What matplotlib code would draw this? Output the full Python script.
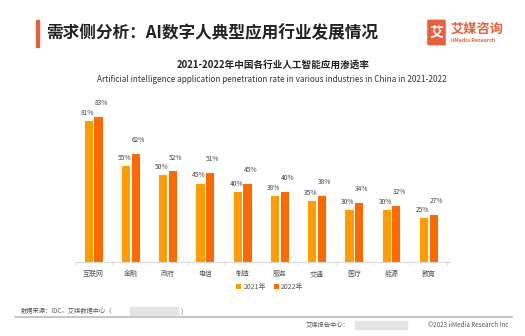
import matplotlib.pyplot as plt
from matplotlib.patches import Rectangle, FancyBboxPatch
import numpy as np

plt.rcParams['font.family'] = ['Noto Sans CJK SC', 'DejaVu Sans']

industries = ['互联网', '金融', '政府', '电信', '制造', '服务', '交通', '医疗', '能源', '教育']
rate_2021 = [81, 55, 50, 45, 40, 38, 35, 30, 30, 25]
rate_2022 = [83, 62, 52, 51, 45, 40, 38, 34, 32, 27]
series_names = ['2021年', '2022年']

c2021 = '#FF9C00'
c2022 = '#FF6A00'
accent = '#E8613C'
grey_txt = '#555555'

W, H = 525, 336
fig = plt.figure(figsize=(W / 100, H / 100), dpi=100)
fig.patch.set_facecolor('white')

def fx(px):
    return px / W

def fy(py):
    return 1 - py / H

# header
fig.patches.append(Rectangle((fx(36), fy(47)), fx(3), 27 / H, transform=fig.transFigure,
                             color=accent, zorder=3))
fig.text(fx(46), fy(33), '需求侧分析：AI数字人典型应用行业发展情况', fontsize=12,
         fontweight='bold', color='#222222', va='center', ha='left')

# logo
fig.patches.append(FancyBboxPatch((fx(429), fy(44)), fx(15), 23 / H,
                                  boxstyle='round,pad=0.002', transform=fig.transFigure,
                                  color=accent, zorder=3))
fig.text(fx(436.5), fy(32.5), '艾', fontsize=10, fontweight='bold', color='white',
         ha='center', va='center', zorder=4)
fig.text(fx(451), fy(29), '艾媒咨询', fontsize=9.5, fontweight='bold', color=accent,
         ha='left', va='center')
fig.text(fx(451), fy(41), 'iiMedia Research', fontsize=3.8, fontweight='bold', color=accent,
         ha='left', va='center')

# chart titles
fig.text(fx(273), fy(65), '2021-2022年中国各行业人工智能应用渗透率', fontsize=6.9,
         fontweight='bold', color='#222222', ha='center', va='center')
fig.text(fx(272), fy(80), 'Artificial intelligence application penetration rate in various industries in China in 2021-2022',
         fontsize=5.9, color='#333333', ha='center', va='center')

# bars
ax = fig.add_axes([fx(75), fy(262), fx(375), 157 / H])
x = np.arange(len(industries))
bw = 0.22
off = 0.13
ax.bar(x - off, rate_2021, bw, color=c2021, label=series_names[0])
ax.bar(x + off, rate_2022, bw, color=c2022, label=series_names[1])
for xi, v in zip(x, rate_2021):
    ax.annotate(f'{v}%', (xi - off, v), xytext=(-1, 3), textcoords='offset points',
                ha='center', va='bottom', fontsize=4.8, color='#444444')
for xi, v in zip(x, rate_2022):
    ax.annotate(f'{v}%', (xi + off, v), xytext=(2, 7), textcoords='offset points',
                ha='center', va='bottom', fontsize=4.8, color='#444444')

ax.set_xlim(-0.46, 9.57)
ax.set_ylim(0, 90)
for s in ['top', 'right', 'left']:
    ax.spines[s].set_visible(False)
ax.spines['bottom'].set_color('#D9D9D9')
ax.spines['bottom'].set_linewidth(0.8)
ax.set_yticks([])
ax.set_xticks(np.arange(-0.5, len(industries), 1), minor=True)
ax.set_xticks(x)
ax.set_xticklabels(industries, fontsize=5, color=grey_txt)
ax.tick_params(axis='x', which='major', length=0, pad=6)
ax.tick_params(axis='x', which='minor', length=2, color='#D9D9D9')

leg = ax.legend(loc='center', bbox_to_anchor=(0.52, -0.16), ncol=2, frameon=False,
                fontsize=5, handlelength=0.7, handleheight=0.7, handletextpad=0.3,
                columnspacing=1.2)
for t in leg.get_texts():
    t.set_color(grey_txt)

# footer
fig.text(fx(21), fy(311), '数据来源：IDC，艾媒数据中心（', fontsize=4.5, color=grey_txt,
         ha='left', va='center')
fig.patches.append(Rectangle((fx(130), fy(315)), fx(48), 8 / H, transform=fig.transFigure,
                             color='#E4E4E4', zorder=2))
fig.text(fx(181), fy(311), '）', fontsize=4.5, color=grey_txt, ha='left', va='center')
fig.lines.append(plt.Line2D([fx(15), fx(512)], [fy(317), fy(317)], transform=fig.transFigure,
                            color='#BBBBBB', lw=1.2))
fig.text(fx(306), fy(325), '艾媒报告中心：', fontsize=4.5, color=grey_txt, ha='left', va='center')
fig.patches.append(Rectangle((fx(355), fy(329)), fx(52), 8 / H, transform=fig.transFigure,
                             color='#E4E4E4', zorder=2))
fig.text(fx(508), fy(325), '©2023 iiMedia Research Inc', fontsize=4.5, color=grey_txt,
         ha='right', va='center')

fig.savefig('out.png', dpi=100)
